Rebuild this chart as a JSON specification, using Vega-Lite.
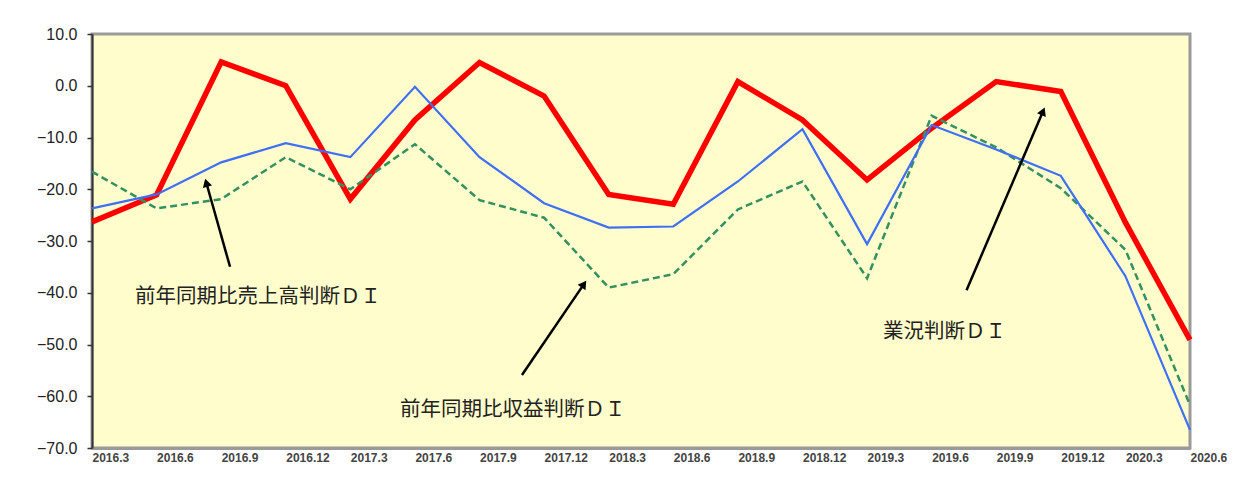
{
  "$schema": "https://vega.github.io/schema/vega-lite/v6.json",
  "width": 1098,
  "height": 414,
  "autosize": {"type": "none"},
  "padding": {"left": 92, "top": 34, "right": 57, "bottom": 32},
  "background": "white",
  "config": {
    "view": {"fill": "#FFFDCB", "stroke": "#9a9a9a", "strokeWidth": 3},
    "font": "Liberation Sans"
  },
  "datasets": {
    "series": [
      {"i": 0, "s": "業況判断DI", "v": -26.3}, {"i": 1, "s": "業況判断DI", "v": -21.1}, {"i": 2, "s": "業況判断DI", "v": 4.6}, {"i": 3, "s": "業況判断DI", "v": 0.0}, {"i": 4, "s": "業況判断DI", "v": -21.9}, {"i": 5, "s": "業況判断DI", "v": -6.6}, {"i": 6, "s": "業況判断DI", "v": 4.5}, {"i": 7, "s": "業況判断DI", "v": -2.0}, {"i": 8, "s": "業況判断DI", "v": -21.0}, {"i": 9, "s": "業況判断DI", "v": -22.9}, {"i": 10, "s": "業況判断DI", "v": 0.8}, {"i": 11, "s": "業況判断DI", "v": -6.6}, {"i": 12, "s": "業況判断DI", "v": -18.2}, {"i": 13, "s": "業況判断DI", "v": -8.2}, {"i": 14, "s": "業況判断DI", "v": 0.8}, {"i": 15, "s": "業況判断DI", "v": -1.1}, {"i": 16, "s": "業況判断DI", "v": -26.4}, {"i": 17, "s": "業況判断DI", "v": -49.1},
      {"i": 0, "s": "売上高", "v": -23.7}, {"i": 1, "s": "売上高", "v": -21.0}, {"i": 2, "s": "売上高", "v": -14.8}, {"i": 3, "s": "売上高", "v": -11.1}, {"i": 4, "s": "売上高", "v": -13.8}, {"i": 5, "s": "売上高", "v": -0.2}, {"i": 6, "s": "売上高", "v": -13.8}, {"i": 7, "s": "売上高", "v": -22.7}, {"i": 8, "s": "売上高", "v": -27.4}, {"i": 9, "s": "売上高", "v": -27.2}, {"i": 10, "s": "売上高", "v": -18.5}, {"i": 11, "s": "売上高", "v": -8.4}, {"i": 12, "s": "売上高", "v": -30.6}, {"i": 13, "s": "売上高", "v": -7.6}, {"i": 14, "s": "売上高", "v": -12.3}, {"i": 15, "s": "売上高", "v": -17.4}, {"i": 16, "s": "売上高", "v": -36.8}, {"i": 17, "s": "売上高", "v": -66.5},
      {"i": 0, "s": "収益", "v": -16.6}, {"i": 1, "s": "収益", "v": -23.7}, {"i": 2, "s": "収益", "v": -21.9}, {"i": 3, "s": "収益", "v": -13.8}, {"i": 4, "s": "収益", "v": -20.0}, {"i": 5, "s": "収益", "v": -11.3}, {"i": 6, "s": "収益", "v": -22.1}, {"i": 7, "s": "収益", "v": -25.5}, {"i": 8, "s": "収益", "v": -39.0}, {"i": 9, "s": "収益", "v": -36.4}, {"i": 10, "s": "収益", "v": -23.9}, {"i": 11, "s": "収益", "v": -18.5}, {"i": 12, "s": "収益", "v": -37.2}, {"i": 13, "s": "収益", "v": -5.8}, {"i": 14, "s": "収益", "v": -11.9}, {"i": 15, "s": "収益", "v": -19.8}, {"i": 16, "s": "収益", "v": -31.7}, {"i": 17, "s": "収益", "v": -61.7}
    ],
    "arrows": [
      {"id": 1, "x": 2.137, "y": -34.98, "x2": 1.770, "y2": -18.75},
      {"id": 2, "x": 6.657, "y": -55.9, "x2": 7.616, "y2": -38.33},
      {"id": 3, "x": 13.54, "y": -39.5, "x2": 14.725, "y2": -4.94}
    ],
    "notes": [
      {"x": 0.666, "y": -40.8, "t": "前年同期比売上高判断ＤＩ"},
      {"x": 4.769, "y": -62.7, "t": "前年同期比収益判断ＤＩ"},
      {"x": 12.247, "y": -47.6, "t": "業況判断ＤＩ"}
    ]
  },
  "layer": [
    {
      "mark": {"type": "rule", "color": "#333333", "strokeWidth": 1.2},
      "encoding": {
        "y": {"datum": 0, "type": "quantitative", "scale": {"domain": [-70, 10], "nice": false, "zero": false}}
      }
    },
    {
      "data": {"name": "series"},
      "transform": [{"filter": "datum.s === '業況判断DI'"}],
      "mark": {"type": "line", "color": "#FF0000", "strokeWidth": 5.5, "strokeJoin": "miter"},
      "encoding": {
        "x": {"field": "i", "type": "quantitative"},
        "y": {"field": "v", "type": "quantitative"}
      }
    },
    {
      "data": {"name": "series"},
      "transform": [{"filter": "datum.s === '収益'"}],
      "mark": {"type": "line", "color": "#339060", "strokeWidth": 2.5, "strokeDash": [7, 4]},
      "encoding": {
        "x": {"field": "i", "type": "quantitative"},
        "y": {"field": "v", "type": "quantitative"}
      }
    },
    {
      "data": {"name": "series"},
      "transform": [{"filter": "datum.s === '売上高'"}],
      "mark": {"type": "line", "color": "#3F6FF5", "strokeWidth": 2.2},
      "encoding": {
        "x": {"field": "i", "type": "quantitative"},
        "y": {"field": "v", "type": "quantitative"}
      }
    },
    {
      "data": {"name": "arrows"},
      "mark": {"type": "rule", "color": "black", "strokeWidth": 2.5},
      "encoding": {
        "x": {"field": "x", "type": "quantitative"},
        "y": {"field": "y", "type": "quantitative"},
        "x2": {"field": "x2"},
        "y2": {"field": "y2"}
      }
    },
    {
      "data": {"name": "arrows"},
      "transform": [{"filter": "datum.id === 1"}],
      "mark": {"type": "point", "shape": "triangle-up", "filled": true, "color": "black", "size": 90, "angle": 344.5, "opacity": 1},
      "encoding": {
        "x": {"field": "x2", "type": "quantitative"},
        "y": {"field": "y2", "type": "quantitative"}
      }
    },
    {
      "data": {"name": "arrows"},
      "transform": [{"filter": "datum.id === 2"}],
      "mark": {"type": "point", "shape": "triangle-up", "filled": true, "color": "black", "size": 90, "angle": 34.4, "opacity": 1},
      "encoding": {
        "x": {"field": "x2", "type": "quantitative"},
        "y": {"field": "y2", "type": "quantitative"}
      }
    },
    {
      "data": {"name": "arrows"},
      "transform": [{"filter": "datum.id === 3"}],
      "mark": {"type": "point", "shape": "triangle-up", "filled": true, "color": "black", "size": 90, "angle": 23, "opacity": 1},
      "encoding": {
        "x": {"field": "x2", "type": "quantitative"},
        "y": {"field": "y2", "type": "quantitative"}
      }
    },
    {
      "data": {"name": "notes"},
      "mark": {"type": "text", "align": "left", "baseline": "middle", "font": "Noto Sans CJK JP", "fontSize": 20.5, "color": "#222222"},
      "encoding": {
        "x": {"field": "x", "type": "quantitative"},
        "y": {"field": "y", "type": "quantitative"},
        "text": {"field": "t"}
      }
    }
  ],
  "encoding": {
    "x": {
      "type": "quantitative",
      "scale": {"domain": [0, 17], "nice": false, "zero": false},
      "axis": {
        "title": null,
        "values": [0,1,2,3,4,5,6,7,8,9,10,11,12,13,14,15,16,17],
        "labelExpr": "['2016.3','2016.6','2016.9','2016.12','2017.3','2017.6','2017.9','2017.12','2018.3','2018.6','2018.9','2018.12','2019.3','2019.6','2019.9','2019.12','2020.3','2020.6'][datum.value]",
        "labelAlign": "left",
        "labelBaseline": "top",
        "labelPadding": 4,
        "labelFontSize": 12,
        "labelFontWeight": "bold",
        "labelColor": "#444444",
        "labelOverlap": false,
        "labelFlush": false,
        "ticks": false,
        "grid": false,
        "domainColor": "#9a9a9a",
        "domainWidth": 3
      }
    },
    "y": {
      "type": "quantitative",
      "scale": {"domain": [-70, 10], "nice": false, "zero": false},
      "axis": {
        "title": null,
        "values": [-70, -60, -50, -40, -30, -20, -10, 0, 10],
        "format": ".1f",
        "labelFontSize": 16,
        "labelColor": "#222222",
        "labelPadding": 10,
        "tickSize": 5,
        "tickColor": "#333333",
        "tickWidth": 1.5,
        "grid": false,
        "domainColor": "#333333",
        "domainWidth": 2
      }
    }
  }
}
